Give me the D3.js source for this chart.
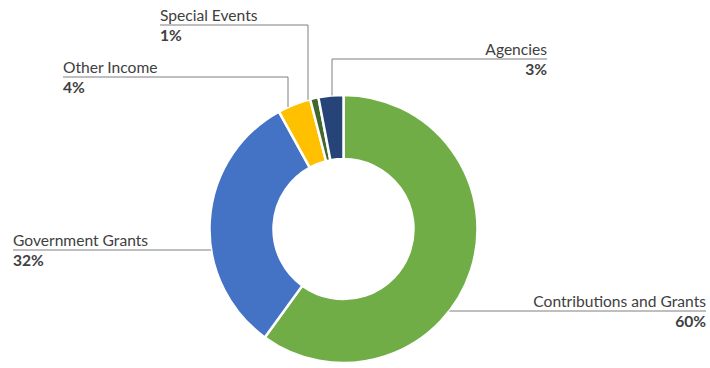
<!DOCTYPE html>
<html>
<head>
<meta charset="utf-8">
<script src="https://cdn.jsdelivr.net/npm/d3@7"></script>
<style>
  html, body { margin: 0; padding: 0; background: #fff; }
  svg { display: block; }
  text { font-family: Lato, "Open Sans", sans-serif; fill: #404040; }
</style>
</head>
<body>
<svg id="chart" width="710" height="368"></svg>
<script>
// Data
const categories = ["Contributions and Grants", "Government Grants", "Other Income", "Special Events", "Agencies"];
const values = [60, 32, 4, 1, 3];
const colors = ["#70AD47", "#4472C4", "#FFC000", "#43682B", "#264478"];

// Label layout (anchor x, line y, side, leader x for vertical)
const labelLayout = [
  { x: 706, y: 311, anchor: "end", lineTo: "arc" },
  { x: 13,  y: 250, anchor: "start", lineTo: "arc" },
  { x: 63,  y: 77,  anchor: "start", vx: 288 },
  { x: 160, y: 25,  anchor: "start", vx: 308 },
  { x: 547, y: 59,  anchor: "end",   vx: 332 }
];

const svg = d3.select("#chart");
const cx = 343.5, cy = 229, R = 134, r = 70;
const g = svg.append("g").attr("transform", `translate(${cx},${cy})`);

const pie = d3.pie().sort(null).value(d => d)(values);
const arc = d3.arc().innerRadius(r).outerRadius(R);
const color = d3.scaleOrdinal().domain(categories).range(colors);

g.selectAll("path.slice").data(pie).join("path")
  .attr("class", "slice")
  .attr("d", arc)
  .attr("fill", (d, i) => color(categories[i]))
  .attr("stroke", "#fff")
  .attr("stroke-width", 2.5)
  .attr("stroke-linejoin", "round");

const total = d3.sum(values);
const fmt = v => Math.round(v / total * 100) + "%";

const labels = svg.append("g");
labelLayout.forEach((L, i) => {
  const name = categories[i];
  labels.append("text")
    .attr("x", L.x).attr("y", L.y - 4.5)
    .attr("text-anchor", L.anchor)
    .attr("font-size", 15.6)
    .text(name);
  labels.append("text")
    .attr("x", L.x).attr("y", L.y + 15.5)
    .attr("text-anchor", L.anchor)
    .attr("font-size", 15.6)
    .attr("font-weight", "bold")
    .text(fmt(values[i]));

  let pts;
  if (L.vx !== undefined) {
    const dx = L.vx - cx;
    const ey = cy - Math.sqrt(R * R - dx * dx);
    pts = [[L.x, L.y], [L.vx, L.y], [L.vx, ey]];
  } else {
    const dy = L.y - cy;
    const ex = Math.sqrt(R * R - dy * dy);
    const edge = L.anchor === "end" ? cx + ex : cx - ex;
    pts = [[L.x, L.y], [edge, L.y]];
  }
  labels.append("path")
    .attr("d", d3.line()(pts))
    .attr("fill", "none")
    .attr("stroke", "#7f7f7f")
    .attr("stroke-width", 1);
});
</script>
</body>
</html>
